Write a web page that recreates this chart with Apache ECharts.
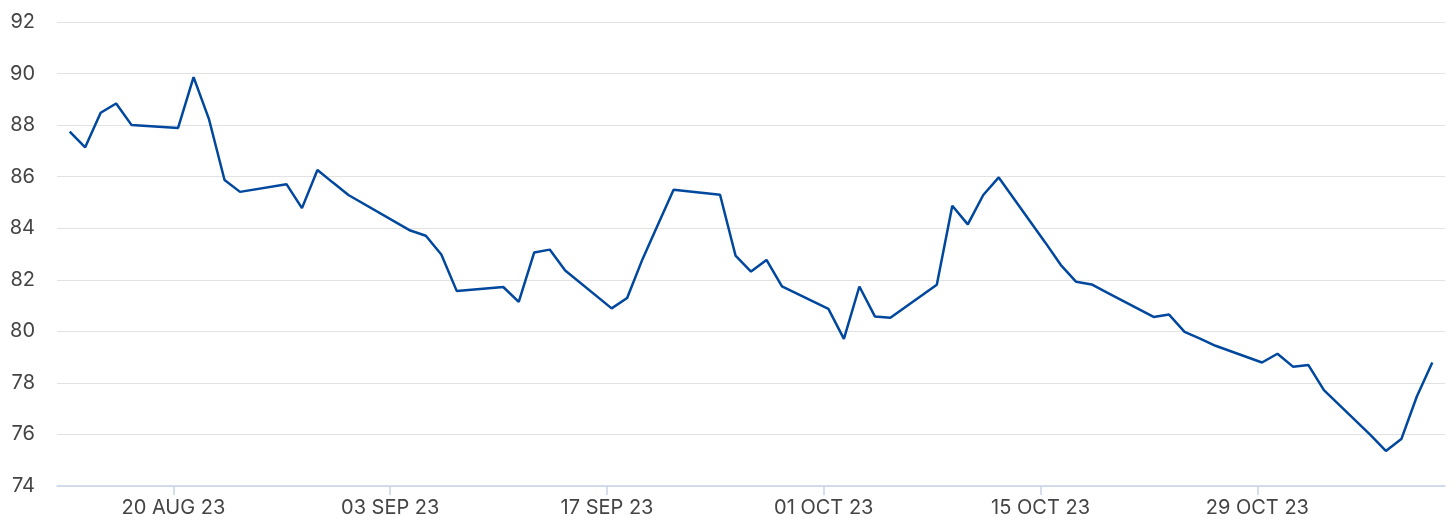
<!DOCTYPE html>
<html>
<head>
<meta charset="utf-8">
<script src="https://cdn.jsdelivr.net/npm/echarts@6/dist/echarts.min.js"></script>
<style>
  html, body { margin: 0; padding: 0; background: #ffffff; }
  #chart { width: 1456px; height: 529px; }
</style>
</head>
<body>
<div id="chart"></div>
<script>
// ---- data ----
const dates = [
  '2023-08-14','2023-08-15','2023-08-16','2023-08-17','2023-08-18',
  '2023-08-21','2023-08-22','2023-08-23','2023-08-24','2023-08-25',
  '2023-08-28','2023-08-29','2023-08-30','2023-08-31','2023-09-01',
  '2023-09-05','2023-09-06','2023-09-07','2023-09-08',
  '2023-09-11','2023-09-12','2023-09-13','2023-09-14','2023-09-15',
  '2023-09-18','2023-09-19','2023-09-20','2023-09-21','2023-09-22',
  '2023-09-25','2023-09-26','2023-09-27','2023-09-28','2023-09-29',
  '2023-10-02','2023-10-03','2023-10-04','2023-10-05','2023-10-06',
  '2023-10-09','2023-10-10','2023-10-11','2023-10-12','2023-10-13',
  '2023-10-16','2023-10-17','2023-10-18','2023-10-19','2023-10-20',
  '2023-10-23','2023-10-24','2023-10-25','2023-10-26','2023-10-27',
  '2023-10-30','2023-10-31','2023-11-01','2023-11-02','2023-11-03',
  '2023-11-06','2023-11-07','2023-11-08','2023-11-09','2023-11-10'
];
const values = [
  87.75, 87.14, 88.48, 88.84, 88.00,
  87.89, 89.86, 88.22, 85.87, 85.41,
  85.71, 84.78, 86.26, 85.77, 85.29,
  83.91, 83.71, 82.98, 81.56,
  81.72, 81.14, 83.06, 83.17, 82.36,
  80.89, 81.29, 82.81, 84.15, 85.49,
  85.30, 82.94, 82.32, 82.77, 81.74,
  80.87, 79.71, 81.74, 80.58, 80.53,
  81.81, 84.87, 84.15, 85.29, 85.97,
  83.45, 82.58, 81.92, 81.82, 81.50,
  80.56, 80.65, 79.98, 79.72, 79.44,
  78.79, 79.13, 78.63, 78.69, 77.72,
  75.98, 75.36, 75.82, 77.47, 78.79
];
const tickDates = ['2023-08-20','2023-09-03','2023-09-17','2023-10-01','2023-10-15','2023-10-29'];
const yTicks = { min: 74, max: 92, step: 2 };
// ------------------------------------------------

const DAY = 86400000;
const MONTHS = ['JAN','FEB','MAR','APR','MAY','JUN','JUL','AUG','SEP','OCT','NOV','DEC'];
// x is measured in days since the Unix epoch (UTC)
const toDay = s => Date.parse(s + 'T00:00:00Z') / DAY;
const TICK_SHIFT = 0.7;   // tick marks sit a little before the following session
const tickVals = tickDates.map(d => toDay(d) + TICK_SHIFT);
const pad2 = n => (n < 10 ? '0' : '') + n;
function fmt(v) {
  const d = new Date(Math.round(v - TICK_SHIFT) * DAY);
  return pad2(d.getUTCDate()) + ' ' + MONTHS[d.getUTCMonth()] + ' ' + pad2(d.getUTCFullYear() % 100);
}
const seriesData = dates.map((d, i) => [toDay(d), values[i]]);
const xMin = toDay(dates[0]) - 0.82;
const xMax = toDay(dates[dates.length - 1]) + 0.82;

const chart = echarts.init(document.getElementById('chart'), null, { renderer: 'canvas' });
chart.setOption({
  animation: false,
  backgroundColor: '#ffffff',
  grid: { left: 57, right: 11, top: 22, bottom: 43, containLabel: false },
  xAxis: {
    type: 'value',
    min: xMin,
    max: xMax,
    scale: true,
    axisLine: { show: true, lineStyle: { color: '#c8d4e8', width: 1.5 } },
    axisTick: { show: true, customValues: tickVals, length: 9, lineStyle: { color: '#c8d4e8', width: 1.5 } },
    axisLabel: {
      customValues: tickVals,
      formatter: fmt,
      color: '#444444',
      fontFamily: 'Inter',
      fontSize: 20,
      margin: 12,
      showMinLabel: true,
      showMaxLabel: true
    },
    splitLine: { show: false }
  },
  yAxis: {
    type: 'value',
    min: yTicks.min,
    max: yTicks.max,
    interval: yTicks.step,
    axisLine: { show: false },
    axisTick: { show: false },
    axisLabel: { color: '#444444', fontFamily: 'Inter', fontSize: 20, margin: 22 },
    splitLine: { show: true, lineStyle: { color: '#e2e2e2', width: 1 } }
  },
  series: [{
    type: 'line',
    data: seriesData,
    showSymbol: false,
    symbol: 'none',
    lineStyle: { color: '#00479e', width: 2.5 },
    z: 3
  }]
});
</script>
</body>
</html>
